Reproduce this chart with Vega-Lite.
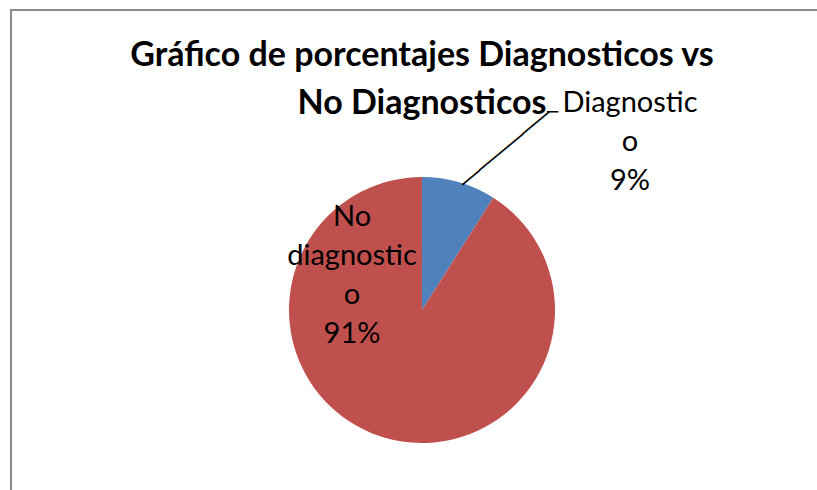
{
  "$schema": "https://vega.github.io/schema/vega-lite/v6.json",
  "width": 822,
  "height": 600,
  "autosize": {"type": "none"},
  "padding": {"left": 11, "top": 10, "right": -16, "bottom": -120},
  "background": "white",
  "view": {"stroke": "#8a8a8a", "strokeWidth": 2, "fill": "white"},
  "title": {
    "text": ["Gráfico de porcentajes Diagnosticos vs", "No Diagnosticos"],
    "font": "Lato",
    "fontSize": 34,
    "fontWeight": "bold",
    "color": "black",
    "lineHeight": 48,
    "anchor": "middle",
    "baseline": "top",
    "offset": -111
  },
  "data": {
    "values": [
      {"categoria": "Diagnostico", "valor": 9, "etiqueta": "Diagnostic\no\n9%"},
      {"categoria": "No diagnostico", "valor": 91, "etiqueta": "No\ndiagnostic\no\n91%"}
    ]
  },
  "layer": [
    {
      "mark": {"type": "arc", "outerRadius": 133},
      "encoding": {
        "theta": {"field": "valor", "type": "quantitative", "stack": true},
        "order": {"field": "categoria", "type": "ordinal", "sort": "ascending"},
        "color": {
          "field": "categoria",
          "type": "nominal",
          "scale": {"domain": ["Diagnostico", "No diagnostico"], "range": ["#4F81BD", "#C0504D"]},
          "legend": null
        }
      }
    },
    {
      "mark": {"type": "text", "radius": 293.5, "thetaOffset": 0.505, "fontSize": 29, "lineHeight": 39, "lineBreak": "\n", "align": "center", "baseline": "middle", "color": "black", "font": "Lato"},
      "encoding": {
        "theta": {"field": "valor", "type": "quantitative", "stack": true},
        "order": {"field": "categoria", "type": "ordinal", "sort": "ascending"},
        "detail": {"field": "categoria", "type": "nominal"},
        "text": {"condition": {"test": "datum.categoria === 'Diagnostico'", "field": "etiqueta"}, "value": ""}
      }
    },
    {
      "mark": {"type": "text", "radius": 116.4, "thetaOffset": 2.214, "fontSize": 29, "lineHeight": 39, "lineBreak": "\n", "align": "center", "baseline": "middle", "color": "black", "font": "Lato"},
      "encoding": {
        "theta": {"field": "valor", "type": "quantitative", "stack": true},
        "order": {"field": "categoria", "type": "ordinal", "sort": "ascending"},
        "detail": {"field": "categoria", "type": "nominal"},
        "text": {"condition": {"test": "datum.categoria === 'No diagnostico'", "field": "etiqueta"}, "value": ""}
      }
    },
    {
      "mark": {"type": "text", "radius": 182.0, "thetaOffset": 0.1976, "angle": -40, "fontSize": 18.87, "align": "center", "baseline": "middle", "color": "black", "font": "DejaVu Sans Mono"},
      "encoding": {
        "theta": {"field": "valor", "type": "quantitative", "stack": true},
        "order": {"field": "categoria", "type": "ordinal", "sort": "ascending"},
        "detail": {"field": "categoria", "type": "nominal"},
        "text": {"condition": {"test": "datum.categoria === 'Diagnostico'", "value": "──────────"}, "value": ""}
      }
    },
    {
      "mark": {"type": "text", "radius": 236.3, "thetaOffset": 0.302, "fontSize": 18.3, "align": "center", "baseline": "middle", "color": "black", "font": "DejaVu Sans Mono"},
      "encoding": {
        "theta": {"field": "valor", "type": "quantitative", "stack": true},
        "order": {"field": "categoria", "type": "ordinal", "sort": "ascending"},
        "detail": {"field": "categoria", "type": "nominal"},
        "text": {"condition": {"test": "datum.categoria === 'Diagnostico'", "value": "─"}, "value": ""}
      }
    }
  ]
}
